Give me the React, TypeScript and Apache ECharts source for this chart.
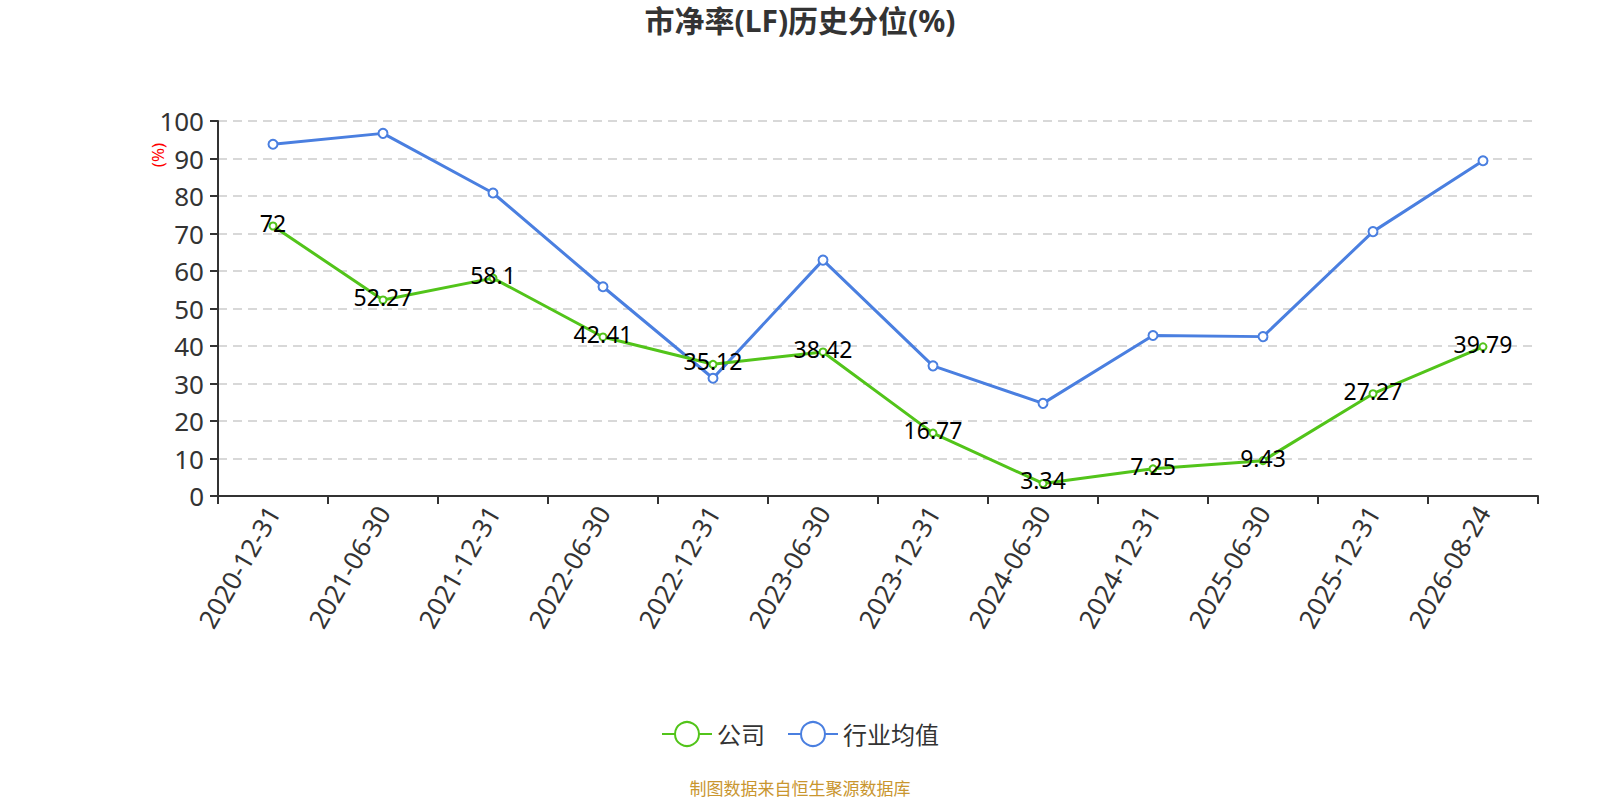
import React, { useEffect, useRef } from "react";
import * as echarts from "echarts";

const categories = [
  "2020-12-31", "2021-06-30", "2021-12-31", "2022-06-30", "2022-12-31", "2023-06-30",
  "2023-12-31", "2024-06-30", "2024-12-31", "2025-06-30", "2025-12-31", "2026-08-24",
];
const companyValues = [72, 52.27, 58.1, 42.41, 35.12, 38.42, 16.77, 3.34, 7.25, 9.43, 27.27, 39.79];
const industryValues = [93.8, 96.7, 80.8, 55.8, 31.4, 62.9, 34.7, 24.7, 42.8, 42.5, 70.5, 89.4];
const yTicks = { min: 0, max: 100, interval: 10 };

const FONT = "'Noto Sans', 'Noto Sans CJK SC', sans-serif";

export default function App() {
  const ref = useRef<HTMLDivElement>(null);
  useEffect(() => {
    if (!ref.current) return;
    const chart = echarts.init(ref.current, null, { renderer: "svg" });
    chart.setOption({
      animation: false,
      textStyle: { fontFamily: FONT },
      title: {
        text: "市净率(LF)历史分位(%)",
        left: "center",
        top: 5,
        padding: 0,
        textStyle: { fontSize: 30, fontWeight: "bold", color: "#333", fontFamily: FONT },
      },
      grid: { left: 218, right: 62, top: 121, bottom: 304 },
      legend: {
        top: 716,
        left: "center",
        itemWidth: 50,
        itemHeight: 30,
        itemGap: 22,
        textStyle: { fontSize: 24, color: "#333", fontFamily: FONT },
        data: ["公司", "行业均值"],
      },
      graphic: [
        {
          type: "text",
          x: 157,
          y: 155,
          rotation: Math.PI / 2,
          style: {
            text: "(%)",
            fill: "red",
            fontSize: 17,
            fontFamily: FONT,
            align: "center",
            verticalAlign: "middle",
          },
        },
        {
          type: "text",
          x: 800,
          y: 788,
          style: {
            text: "制图数据来自恒生聚源数据库",
            fill: "#c9962f",
            fontSize: 17,
            fontFamily: FONT,
            align: "center",
            verticalAlign: "middle",
          },
        },
      ],
      xAxis: {
        type: "category",
        data: categories,
        boundaryGap: true,
        axisLine: { lineStyle: { color: "#333", width: 2 } },
        axisTick: { show: true, length: 8, lineStyle: { color: "#333", width: 2 } },
        axisLabel: { rotate: 60, fontSize: 26, color: "#333", margin: 12, interval: 0, fontFamily: FONT },
      },
      yAxis: {
        type: "value",
        min: yTicks.min,
        max: yTicks.max,
        interval: yTicks.interval,
        axisLine: { show: true, lineStyle: { color: "#333", width: 2 } },
        axisTick: { show: true, length: 8, lineStyle: { color: "#333", width: 2 } },
        axisLabel: { fontSize: 26, color: "#333", margin: 14, fontFamily: FONT },
        splitLine: { lineStyle: { type: [9, 6], color: "#cccccc", width: 1.5 } },
      },
      series: [
        {
          name: "公司",
          type: "line",
          data: companyValues,
          symbol: "emptyCircle",
          symbolSize: 7,
          color: "#52c41a",
          lineStyle: { width: 3, color: "#52c41a" },
          itemStyle: { color: "#52c41a", borderWidth: 2 },
          label: {
            show: true,
            position: "inside",
            offset: [0, -3],
            fontSize: 23,
            color: "#000",
            fontFamily: FONT,
          },
          z: 3,
        },
        {
          name: "行业均值",
          type: "line",
          data: industryValues,
          symbol: "emptyCircle",
          symbolSize: 9,
          color: "#4a7fe0",
          lineStyle: { width: 3, color: "#4a7fe0" },
          itemStyle: { color: "#4a7fe0", borderWidth: 2 },
          z: 2,
        },
      ],
    });
    return () => chart.dispose();
  }, []);
  return (
    <div
      ref={ref}
      style={{ position: "absolute", left: 0, top: 0, width: 1600, height: 800 }}
    />
  );
}
